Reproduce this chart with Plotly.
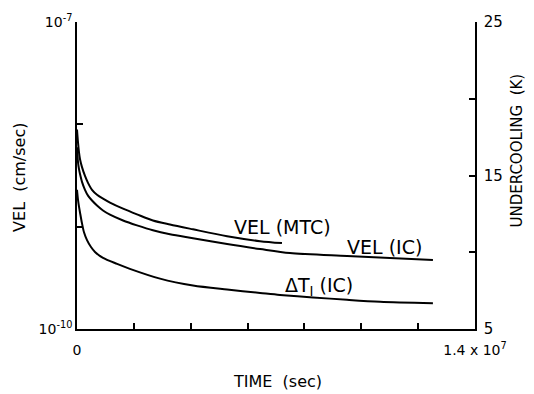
import plotly.graph_objects as go

# Time axis (sec)
t_mtc = [0, 3.52e4, 7.04e4, 1.06e5, 1.76e5, 2.81e5, 3.87e5, 5.28e5, 7.04e5, 9.15e5, 1.16e6, 1.62e6,
         2.11e6, 2.67e6, 3.27e6, 4.08e6, 5.28e6, 6.44e6, 7.21e6]
vel_mtc = [8.88e-9, 6.65e-9, 5.33e-9, 4.56e-9, 3.82e-9, 3.13e-9, 2.68e-9, 2.29e-9, 2.05e-9, 1.88e-9,
           1.72e-9, 1.50e-9, 1.32e-9, 1.15e-9, 1.05e-9, 9.42e-10, 8.07e-10, 7.22e-10, 6.91e-10]

t_ic = [0, 3.52e4, 7.04e4, 1.06e5, 1.76e5, 2.81e5, 3.87e5, 5.28e5, 7.04e5, 9.15e5, 1.16e6, 1.62e6,
        2.11e6, 2.67e6, 3.27e6, 4.08e6, 5.28e6, 6.44e6, 7.49e6, 9.50e6, 1.252e7]
vel_ic = [5.96e-9, 4.27e-9, 3.65e-9, 3.27e-9, 2.74e-9, 2.29e-9, 2.01e-9, 1.80e-9, 1.61e-9, 1.44e-9,
          1.31e-9, 1.15e-9, 1.03e-9, 9.22e-10, 8.44e-10, 7.72e-10, 6.76e-10, 6.05e-10, 5.53e-10,
          5.17e-10, 4.73e-10]

t_dt = [0, 3.52e4, 7.04e4, 1.06e5, 1.76e5, 2.46e5, 3.52e5, 4.92e5, 6.33e5, 9.15e5, 1.41e6, 1.86e6,
        2.92e6, 4.08e6, 5.28e6, 6.44e6, 7.14e6, 8.30e6, 9.50e6, 1.066e7, 1.252e7]
dt_ic = [14.07, 13.42, 12.97, 12.59, 11.88, 11.30, 10.79, 10.34, 10.02, 9.63, 9.24, 8.92,
         8.28, 7.83, 7.57, 7.35, 7.22, 7.06, 6.90, 6.77, 6.67]

x_ticks = [0, 2e6, 4e6, 6e6, 8e6, 1e7, 1.2e7, 1.4e7]
x_ticktext = ["0", "", "", "", "", "", "", "1.4 x 10<sup>7</sup>"]
y_ticks = [1e-10, 1e-9, 1e-8, 1e-7]
y_ticktext = ["10<sup>-10</sup>", "", "", "10<sup>-7</sup>"]
y2_ticks = [5, 10, 15, 20, 25]
y2_ticktext = ["5", "", "15", "", "25"]

FONT = "DejaVu Sans"
line = dict(color="black", width=2)

fig = go.Figure()
fig.add_trace(go.Scatter(x=t_mtc, y=vel_mtc, mode="lines",
                         line=dict(line, shape="spline", smoothing=0.8), yaxis="y"))
fig.add_trace(go.Scatter(x=t_ic, y=vel_ic, mode="lines",
                         line=dict(line, shape="spline", smoothing=0.8), yaxis="y"))
fig.add_trace(go.Scatter(x=t_dt, y=dt_ic, mode="lines",
                         line=dict(line, shape="spline", smoothing=0.8), yaxis="y2"))

axis_common = dict(ticks="inside", ticklen=6, tickwidth=1.5, tickcolor="black",
                   showline=True, linecolor="black", linewidth=1.5, showgrid=False,
                   zeroline=False)

fig.update_layout(
    width=534, height=394,
    margin=dict(l=77, r=59, t=18, b=65),
    paper_bgcolor="white", plot_bgcolor="white",
    showlegend=False,
    font=dict(family=FONT, color="black", size=14),
    xaxis=dict(range=[0, 1.4e7], tickvals=x_ticks, ticktext=x_ticktext,
               ticklabelstandoff=7, tickfont=dict(size=14), **axis_common),
    yaxis=dict(type="log", range=[-10, -7], tickvals=y_ticks, ticktext=y_ticktext,
               tickfont=dict(size=14), **axis_common),
    yaxis2=dict(range=[5, 25], tickvals=y2_ticks, ticktext=y2_ticktext, overlaying="y", side="right",
                ticklabelstandoff=4, tickfont=dict(size=15), **axis_common),
)

ann = [
    dict(text="VEL (MTC)", x=0.389, y=0.331, xanchor="left", yanchor="middle", font=dict(size=19)),
    dict(text="VEL (IC)", x=0.673, y=0.267, xanchor="left", yanchor="middle", font=dict(size=19)),
    dict(text="ΔT<sub>I</sub> (IC)", x=0.518, y=0.138, xanchor="left", yanchor="middle", font=dict(size=19)),
    dict(text="VEL  (cm/sec)", x=-0.146, y=0.495, textangle=-90, xanchor="center", yanchor="middle", font=dict(size=16)),
    dict(text="UNDERCOOLING  (K)", x=1.106, y=0.582, textangle=-90, xanchor="center", yanchor="middle", font=dict(size=15)),
    dict(text="TIME  (sec)", x=0.503, y=-0.170, xanchor="center", yanchor="middle", font=dict(size=16)),
]
for a in ann:
    a.update(xref="paper", yref="paper", showarrow=False)
fig.update_layout(annotations=ann)

fig.write_html("out.html")
